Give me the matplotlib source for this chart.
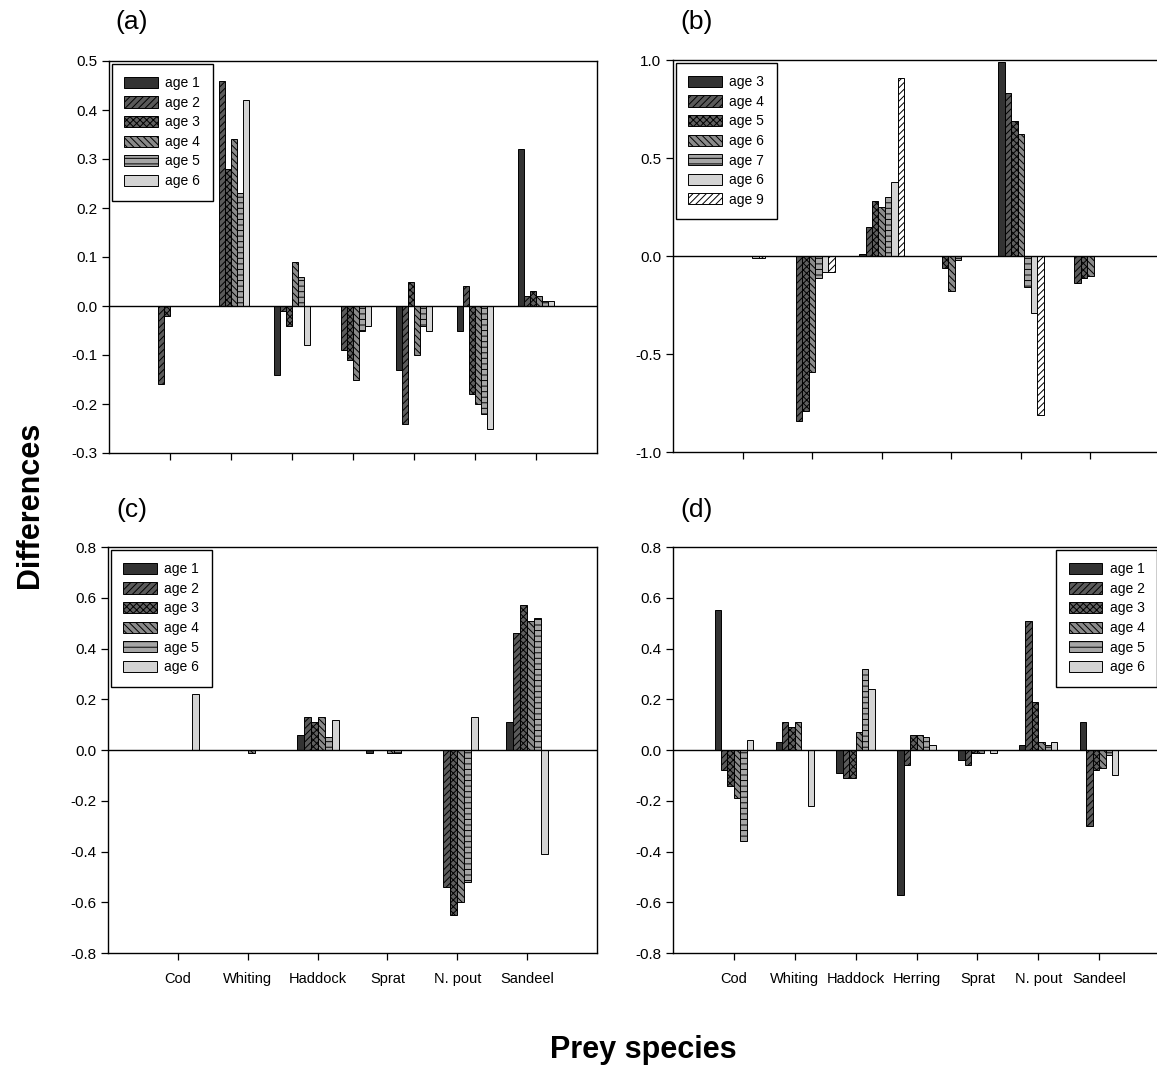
import matplotlib
matplotlib.use("Agg")
import matplotlib.pyplot as plt
import numpy as np

plt.rcParams['font.family'] = ['Liberation Sans', 'DejaVu Sans']
plt.rcParams['hatch.linewidth'] = 0.7

W, H = 1157, 1079

# ---------------- data ----------------
species_a = ["Cod", "Whiting", "Haddock", "Herring", "Sprat", "N. pout", "Sandeel"]
ages_a = ["age 1", "age 2", "age 3", "age 4", "age 5", "age 6"]
a_age1 = [0.00, 0.00, -0.14, 0.00, -0.13, -0.05, 0.32]
a_age2 = [-0.16, 0.46, -0.01, -0.09, -0.24, 0.04, 0.02]
a_age3 = [-0.02, 0.28, -0.04, -0.11, 0.05, -0.18, 0.03]
a_age4 = [0.00, 0.34, 0.09, -0.15, -0.10, -0.20, 0.02]
a_age5 = [0.00, 0.23, 0.06, -0.05, -0.04, -0.22, 0.01]
a_age6 = [0.00, 0.42, -0.08, -0.04, -0.05, -0.25, 0.01]

species_b = ["Cod", "Whiting", "Haddock", "Sprat", "N. pout", "Sandeel"]
ages_b = ["age 3", "age 4", "age 5", "age 6", "age 7", "age 6", "age 9"]
b_age3 = [0.00, 0.00, 0.01, 0.00, 0.99, 0.00]
b_age4 = [0.00, -0.84, 0.15, 0.00, 0.83, -0.14]
b_age5 = [0.00, -0.79, 0.28, -0.06, 0.69, -0.11]
b_age6 = [0.00, -0.59, 0.25, -0.18, 0.62, -0.10]
b_age7 = [0.00, -0.11, 0.30, -0.02, -0.16, 0.00]
b_age6b = [-0.01, -0.08, 0.38, 0.00, -0.29, 0.00]
b_age9 = [-0.01, -0.08, 0.91, 0.00, -0.81, 0.00]

species_c = ["Cod", "Whiting", "Haddock", "Sprat", "N. pout", "Sandeel"]
ages_c = ["age 1", "age 2", "age 3", "age 4", "age 5", "age 6"]
c_age1 = [0.00, 0.00, 0.06, -0.01, 0.00, 0.11]
c_age2 = [0.00, 0.00, 0.13, 0.00, -0.54, 0.46]
c_age3 = [0.00, 0.00, 0.11, 0.00, -0.65, 0.57]
c_age4 = [0.00, -0.01, 0.13, -0.01, -0.60, 0.51]
c_age5 = [0.00, 0.00, 0.05, -0.01, -0.52, 0.52]
c_age6 = [0.22, 0.00, 0.12, 0.00, 0.13, -0.41]

species_d = ["Cod", "Whiting", "Haddock", "Herring", "Sprat", "N. pout", "Sandeel"]
ages_d = ["age 1", "age 2", "age 3", "age 4", "age 5", "age 6"]
d_age1 = [0.55, 0.03, -0.09, -0.57, -0.04, 0.02, 0.11]
d_age2 = [-0.08, 0.11, -0.11, -0.06, -0.06, 0.51, -0.30]
d_age3 = [-0.14, 0.09, -0.11, 0.06, -0.01, 0.19, -0.08]
d_age4 = [-0.19, 0.11, 0.07, 0.06, -0.01, 0.03, -0.07]
d_age5 = [-0.36, 0.00, 0.32, 0.05, 0.00, 0.02, -0.02]
d_age6 = [0.04, -0.22, 0.24, 0.02, -0.01, 0.03, -0.10]

yticks_a = [0.5, 0.4, 0.3, 0.2, 0.1, 0.0, -0.1, -0.2, -0.3]
yticks_b = [1.0, 0.5, 0.0, -0.5, -1.0]
yticks_cd = [0.8, 0.6, 0.4, 0.2, 0.0, -0.2, -0.4, -0.6, -0.8]

# ---------------- styles ----------------
style6 = [
    dict(color="#333333", hatch=None),
    dict(color="#5a5a5a", hatch="/////"),
    dict(color="#5f5f5f", hatch="xxxxx"),
    dict(color="#8a8a8a", hatch="\\\\\\\\\\"),
    dict(color="#a6a6a6", hatch="---"),
    dict(color="#d4d4d4", hatch=None),
]
style7 = style6[:5] + [dict(color="#d4d4d4", hatch=None),
                       dict(color="#ffffff", hatch="/////")]


def px_axes(fig, left, top, right, bottom):
    return fig.add_axes([left / W, 1 - bottom / H, (right - left) / W, (bottom - top) / H])


def draw_panel(ax, species, series, labels, styles, bw, yticks, show_xlabels, legend_loc):
    n = len(species)
    k = len(series)
    x = np.arange(1, n + 1)
    for i, (vals, lab, st) in enumerate(zip(series, labels, styles)):
        off = (i - (k - 1) / 2) * bw
        ax.bar(x + off, vals, width=bw, color=st["color"], edgecolor="black",
               linewidth=0.7, hatch=st["hatch"], label=lab, zorder=2)
    ax.axhline(0, color="black", lw=1.0, zorder=3)
    ax.set_xlim(0, n + 1)
    ax.set_ylim(min(yticks), max(yticks))
    ax.set_yticks(yticks)
    ax.set_yticklabels([f"{t:.1f}" for t in yticks], fontsize=11)
    ax.set_xticks(x)
    if show_xlabels:
        ax.set_xticklabels(species, fontsize=10.5)
    else:
        ax.set_xticklabels([])
    ax.tick_params(axis="both", direction="out", length=5, width=0.9, top=False, right=False)
    ax.tick_params(axis="x", pad=9)
    ax.tick_params(axis="y", pad=3.5)
    for s in ax.spines.values():
        s.set_linewidth(1.0)
    leg = ax.legend(loc=legend_loc, fancybox=False, framealpha=1, edgecolor="black",
                    fontsize=10, borderaxespad=0.2, handlelength=2.4, handleheight=0.85,
                    labelspacing=0.4, borderpad=0.9, handletextpad=0.55)
    leg.get_frame().set_linewidth(1.0)


fig = plt.figure(figsize=(W / 100, H / 100), dpi=100)

ax_a = px_axes(fig, 109, 61, 597, 453)
draw_panel(ax_a, species_a, [a_age1, a_age2, a_age3, a_age4, a_age5, a_age6], ages_a,
           style6, 0.1, yticks_a, False, "upper left")

ax_b = px_axes(fig, 673, 60, 1160, 452)
draw_panel(ax_b, species_b, [b_age3, b_age4, b_age5, b_age6, b_age7, b_age6b, b_age9], ages_b,
           style7, 0.093, yticks_b, False, "upper left")

ax_c = px_axes(fig, 108, 547, 597, 953)
draw_panel(ax_c, species_c, [c_age1, c_age2, c_age3, c_age4, c_age5, c_age6], ages_c,
           style6, 0.1, yticks_cd, True, "upper left")

ax_d = px_axes(fig, 673, 547, 1160, 953)
draw_panel(ax_d, species_d, [d_age1, d_age2, d_age3, d_age4, d_age5, d_age6], ages_d,
           style6, 0.105, yticks_cd, True, "upper right")

for lab, (xp, yp) in zip(["(a)", "(b)", "(c)", "(d)"],
                         [(132, 22), (697, 22), (132, 510), (697, 510)]):
    fig.text(xp / W, 1 - yp / H, lab, fontsize=19, ha="center", va="center")

fig.text(30 / W, 1 - 505 / H, "Differences", fontsize=22, fontweight="bold",
         rotation=90, ha="center", va="center")
fig.text(643 / W, 1 - 1050 / H, "Prey species", fontsize=22, fontweight="bold",
         ha="center", va="center")

fig.savefig("out.png", dpi=100)
